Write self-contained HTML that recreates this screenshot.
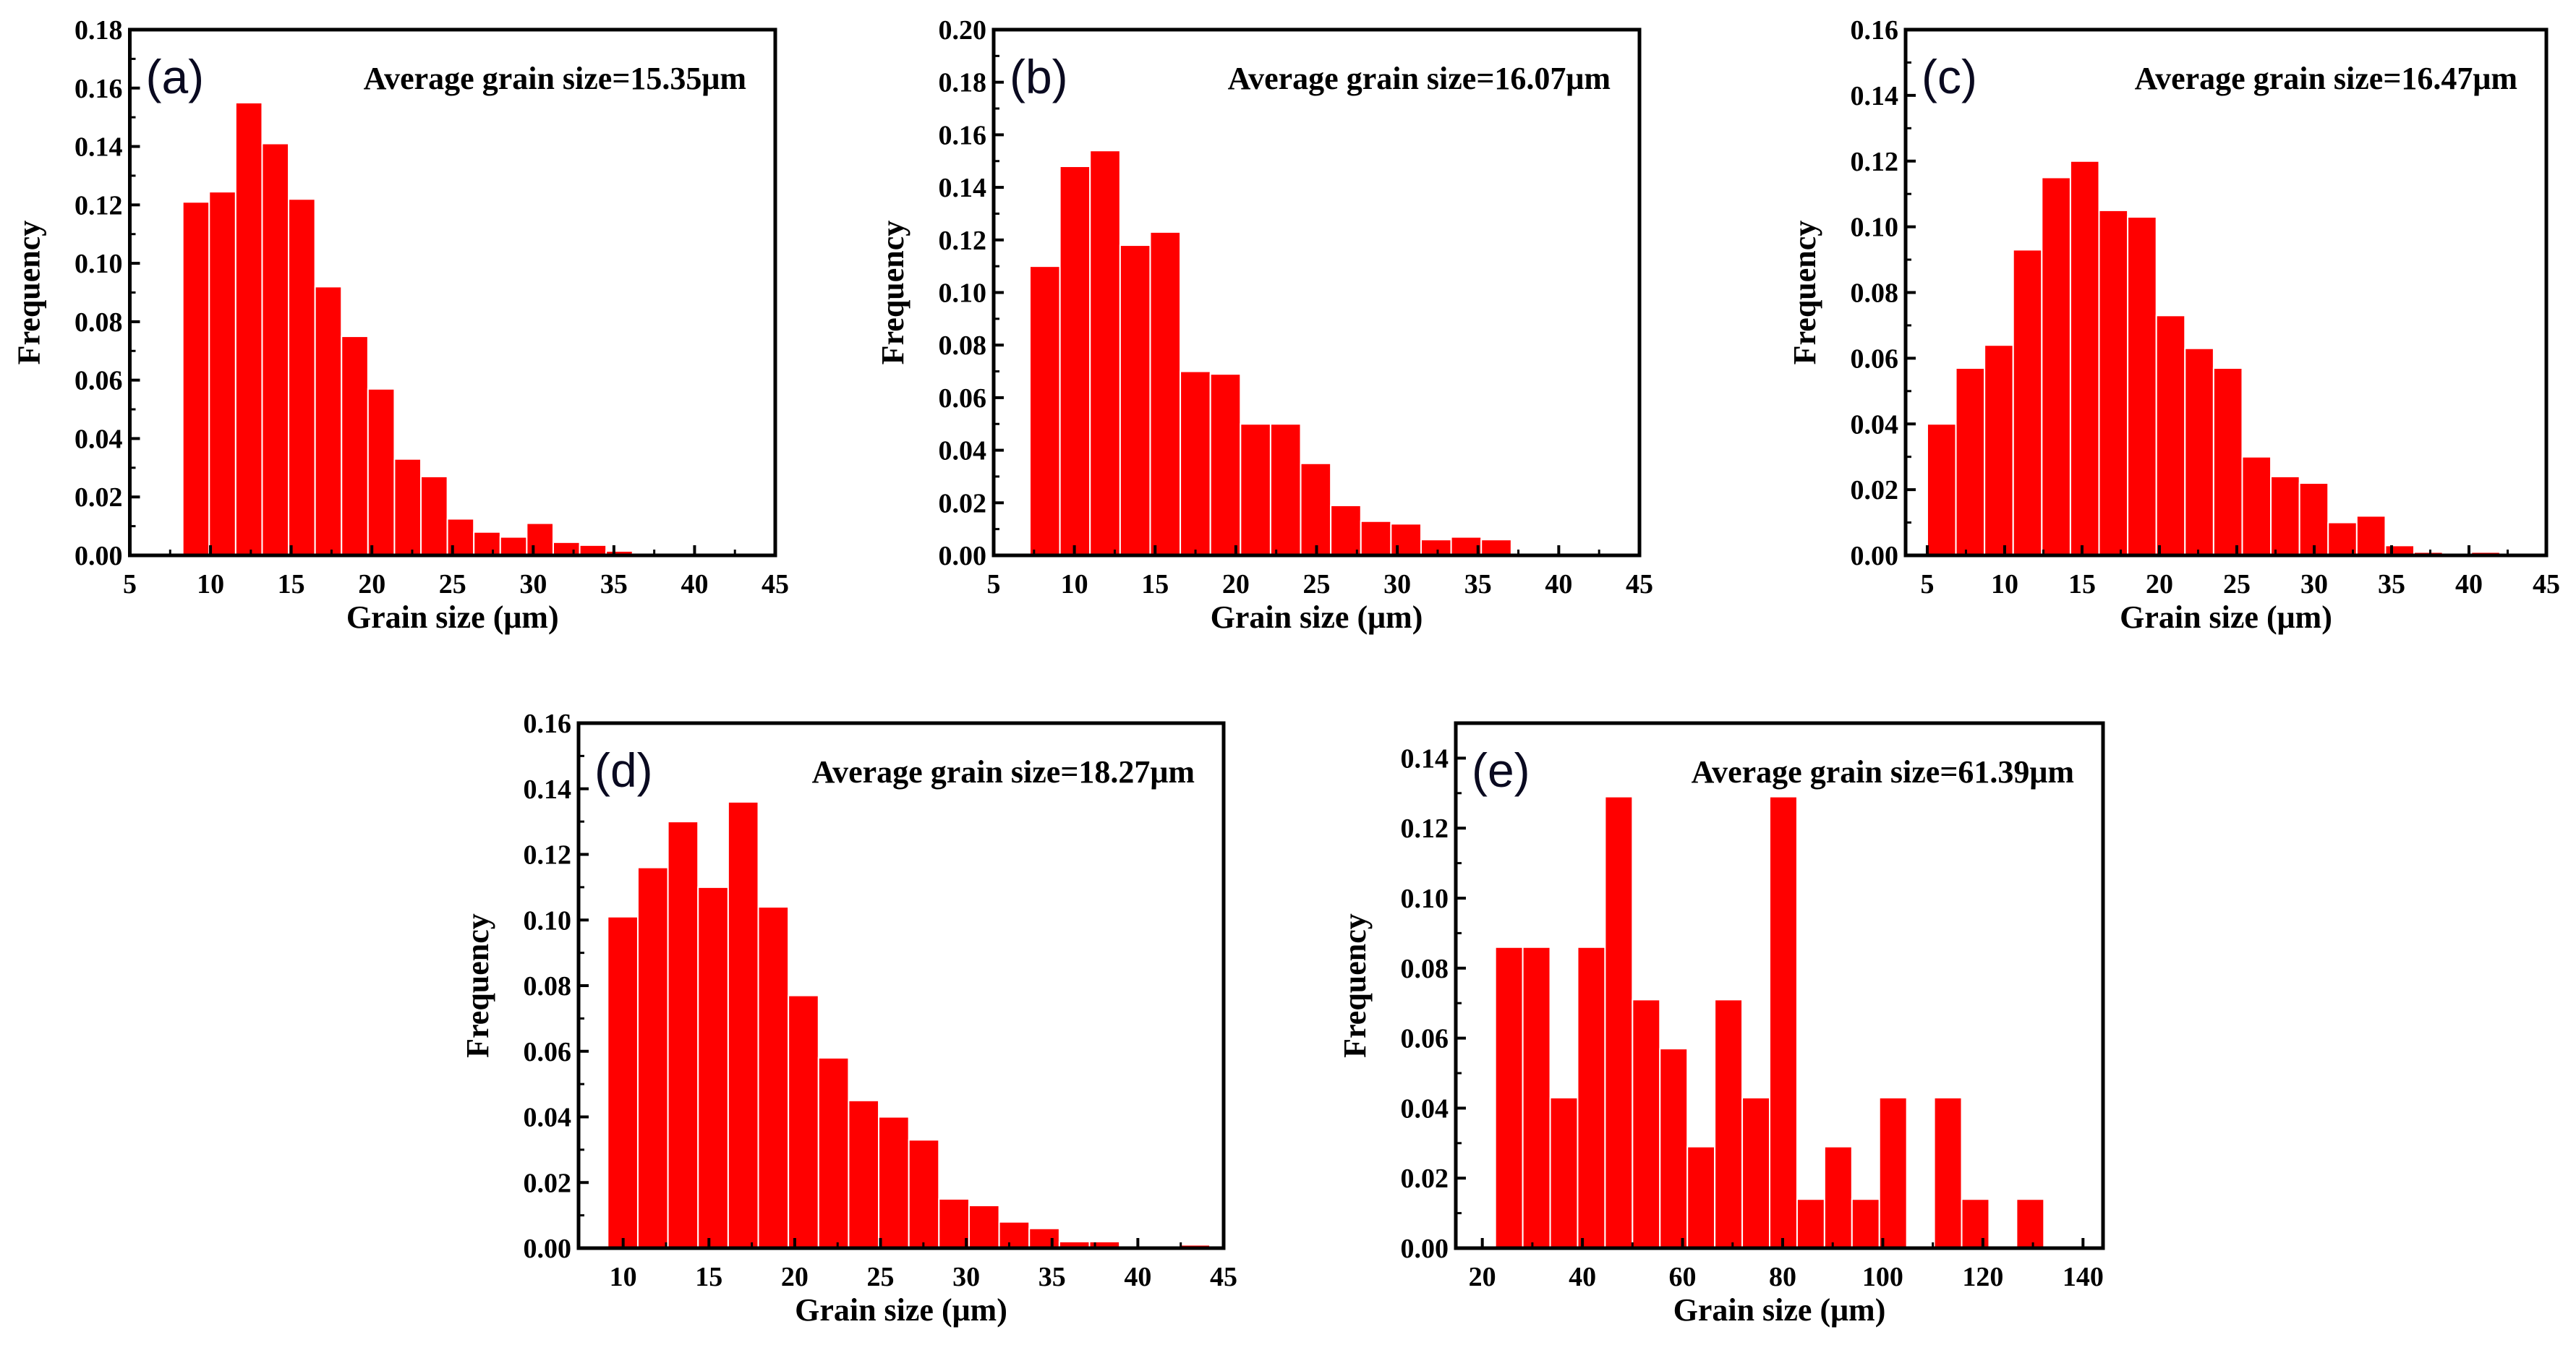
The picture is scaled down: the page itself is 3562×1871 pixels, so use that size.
<!DOCTYPE html>
<html><head><meta charset="utf-8"><style>
html,body{margin:0;padding:0;background:#fff;}
svg{display:block;}
text{font-family:"Liberation Serif",serif;font-weight:bold;fill:#000;}
</style></head><body>
<svg id="fig" width="3562" height="1871" viewBox="0 0 3562 1871" xmlns="http://www.w3.org/2000/svg"></svg>
<script>
// data arrays
const aValues=[0.121,0.1245,0.155,0.141,0.122,0.092,0.075,0.057,0.033,0.027,0.0125,0.008,0.0063,0.011,0.0045,0.0035,0.0015,0.0005,0,0.0005];
const bValues=[0.110,0.148,0.154,0.118,0.123,0.070,0.069,0.050,0.050,0.035,0.019,0.013,0.012,0.006,0.007,0.006];
const cValues=[0.040,0.057,0.064,0.093,0.115,0.120,0.105,0.103,0.073,0.063,0.057,0.030,0.024,0.022,0.010,0.012,0.003,0.001,0,0.001];
const dValues=[0.101,0.116,0.130,0.110,0.136,0.104,0.077,0.058,0.045,0.040,0.033,0.015,0.013,0.008,0.006,0.002,0.002,0,0,0.001];
const eValues=[0.086,0.086,0.043,0.086,0.129,0.071,0.057,0.029,0.071,0.043,0.129,0.014,0.029,0.014,0.043,0,0.043,0.014,0,0.014];
const aXTicks=[5,10,15,20,25,30,35,40,45];
const bXTicks=[5,10,15,20,25,30,35,40,45];
const cXTicks=[5,10,15,20,25,30,35,40,45];
const dXTicks=[10,15,20,25,30,35,40,45];
const eXTicks=[20,40,60,80,100,120,140];
const aYTicks=[0,0.02,0.04,0.06,0.08,0.10,0.12,0.14,0.16,0.18];
const bYTicks=[0,0.02,0.04,0.06,0.08,0.10,0.12,0.14,0.16,0.18,0.20];
const cYTicks=[0,0.02,0.04,0.06,0.08,0.10,0.12,0.14,0.16];
const dYTicks=[0,0.02,0.04,0.06,0.08,0.10,0.12,0.14,0.16];
const eYTicks=[0,0.02,0.04,0.06,0.08,0.10,0.12,0.14];
const averages=["15.35","16.07","16.47","18.27","61.39"];

const NS="http://www.w3.org/2000/svg";
const svg=document.getElementById('fig');
function mk(tag,attrs,parent){const e=document.createElementNS(NS,tag);for(const k in attrs)e.setAttribute(k,attrs[k]);(parent||svg).appendChild(e);return e;}

const panels=[
 {id:'a',box:[179.5,41,1072,768],xr:[5,45],yr:[0,0.18],start:8.28,w:1.64,vals:aValues,xt:aXTicks,yt:aYTicks},
 {id:'b',box:[1374,41,2267,768],xr:[5,45],yr:[0,0.20],start:7.24,w:1.864,vals:bValues,xt:bXTicks,yt:bYTicks},
 {id:'c',box:[2635,41,3521,768],xr:[3.6,45],yr:[0,0.16],start:5,w:1.85,vals:cValues,xt:cXTicks,yt:cYTicks},
 {id:'d',box:[800,1000,1692,1726],xr:[7.4,45],yr:[0,0.16],start:9.1,w:1.755,vals:dValues,xt:dXTicks,yt:dYTicks},
 {id:'e',box:[2013,1000,2908,1726],xr:[14.7,144],yr:[0,0.15],start:22.6,w:5.48,vals:eValues,xt:eXTicks,yt:eYTicks}
];

panels.forEach((p,pi)=>{
 const [x0,y0,x1,y1]=p.box;
 const g=mk('g',{});
 
 
 const X=v=>x0+(v-p.xr[0])/(p.xr[1]-p.xr[0])*(x1-x0);
 const Y=v=>y1-(v-p.yr[0])/(p.yr[1]-p.yr[0])*(y1-y0);
 p.vals.forEach((v,i)=>{
  if(v<=0)return;
  const xa=X(p.start+i*p.w), xb=X(p.start+(i+1)*p.w);
  const r=mk('rect',{x:xa,y:Y(v),width:xb-xa,height:Y(0)-Y(v),fill:'#ff0000',stroke:'#fff','stroke-width':2},g);
  
  
 });
 p.xt.forEach((t,i)=>{
  const x=X(t);
  mk('line',{x1:x,y1:y1,x2:x,y2:y1-14,stroke:'#000','stroke-width':4},g);
  if(i<p.xt.length-1){const xm=X(t+(p.xt[1]-p.xt[0])/2);mk('line',{x1:xm,y1:y1,x2:xm,y2:y1-8,stroke:'#000','stroke-width':3},g);}
  const tx=mk('text',{x:x,y:y1+52,'font-size':38,'text-anchor':'middle'},g);
  tx.textContent=t;
  
  
 });
 p.yt.forEach((t,i)=>{
  const y=Y(t);
  mk('line',{x1:x0,y1:y,x2:x0+14,y2:y,stroke:'#000','stroke-width':4},g);
  if(i<p.yt.length-1){const ym=Y(t+0.01);mk('line',{x1:x0,y1:ym,x2:x0+8,y2:ym,stroke:'#000','stroke-width':3},g);}
  const ty=mk('text',{x:x0-10,y:y+13,'font-size':38,'text-anchor':'end'},g);
  ty.textContent=t.toFixed(2);
  
  
 });
 const fr=mk('rect',{x:x0,y:y0,width:x1-x0,height:y1-y0,fill:'none',stroke:'#000','stroke-width':5},g);
 
 
 const xl=mk('text',{x:(x0+x1)/2,y:y1+100,'font-size':44,'text-anchor':'middle'},g);
 xl.textContent='Grain size (μm)';
 
 
 const yx=x0-125, yy=(y0+y1)/2;
 const yl=mk('text',{x:yx,y:yy,'font-size':44,'text-anchor':'middle',transform:'rotate(-90 '+yx+' '+yy+')'},g);
 yl.textContent='Frequency';
 
 
 const an=mk('text',{x:x1-40,y:y0+82,'font-size':44,'text-anchor':'end'},g);
 an.textContent='Average grain size='+averages[pi]+'μm';
 
 
 const pl=mk('text',{x:x0+22,y:y0+88,'font-size':66,'text-anchor':'start',style:'font-family:"Liberation Sans",sans-serif;font-weight:normal;fill:#0a0a20'},g);
 pl.textContent='('+p.id+')';
 
 
});
</script>
</body></html>
